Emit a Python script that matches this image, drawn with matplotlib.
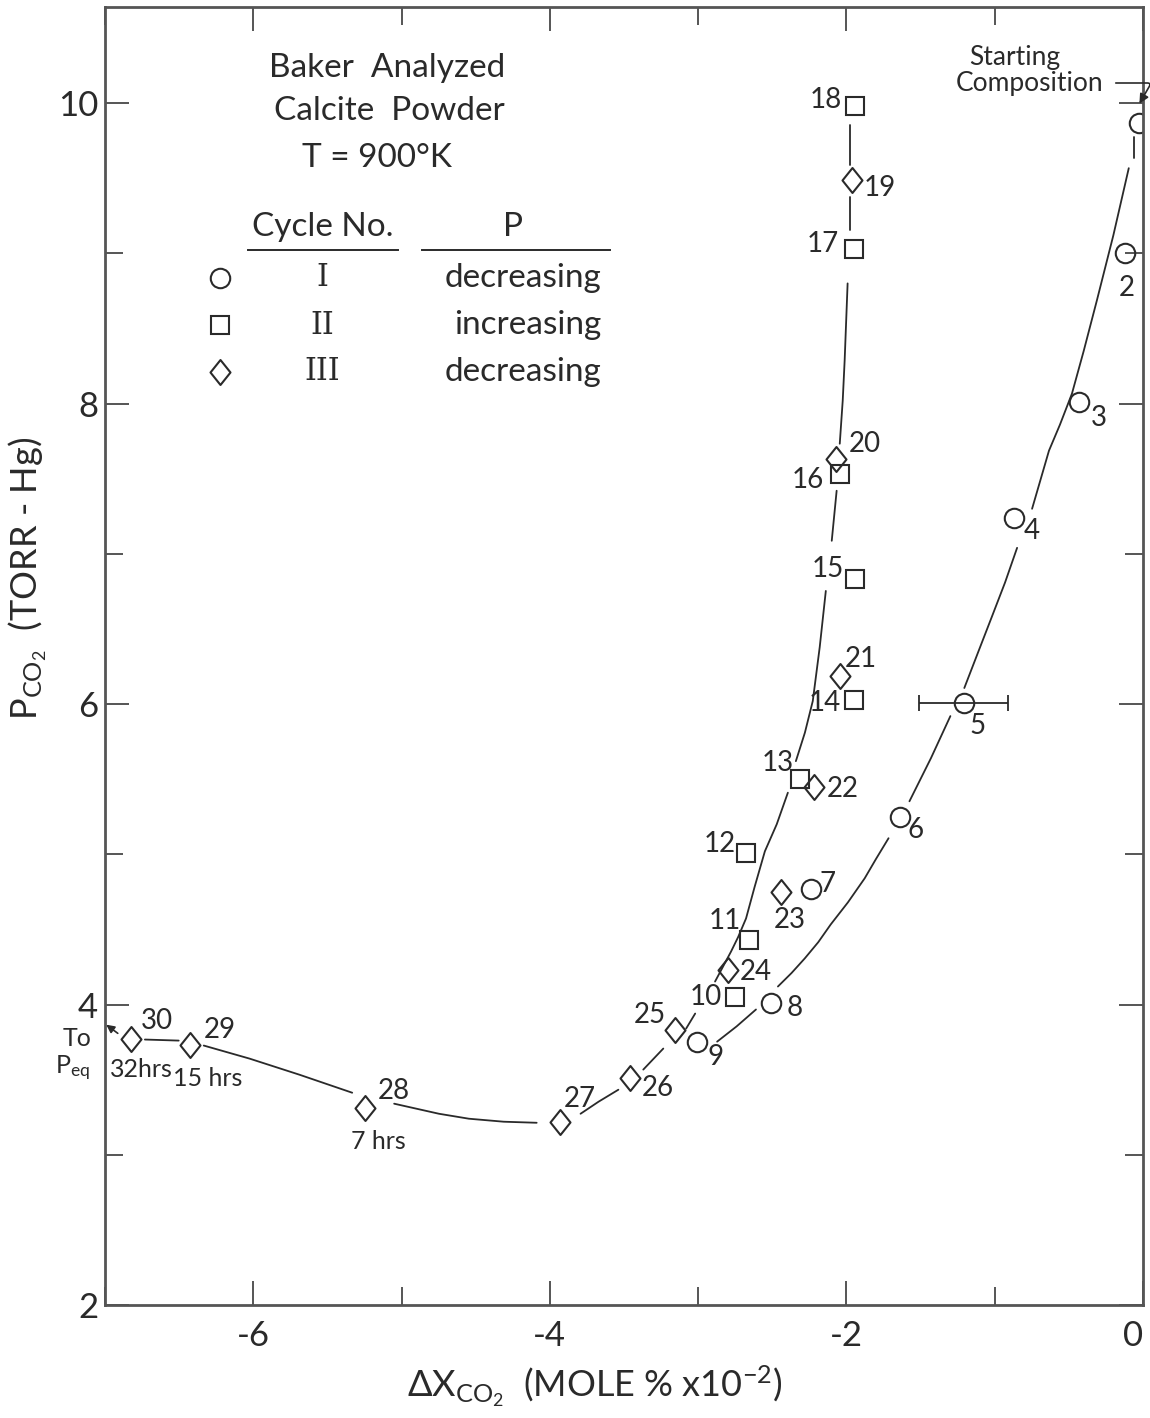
import matplotlib
matplotlib.use("Agg")
import matplotlib.pyplot as plt
from matplotlib.path import Path
from matplotlib.ticker import MultipleLocator

plt.rcParams["font.family"] = ["Lato", "DejaVu Sans"]
plt.rcParams["mathtext.fontset"] = "custom"
plt.rcParams["mathtext.rm"] = "Lato"
plt.rcParams["mathtext.it"] = "Lato"
plt.rcParams["mathtext.default"] = "regular"
plt.rcParams["axes.unicode_minus"] = False

# ---------------- data ----------------
# Cycle I (circles, P decreasing)
c1_labels = ["", "2", "3", "4", "5", "6", "7", "8", "9"]
c1_x = [-0.03, -0.12, -0.43, -0.87, -1.21, -1.64, -2.24, -2.51, -3.01]
c1_y = [9.87, 9.00, 8.01, 7.24, 6.01, 5.25, 4.77, 4.01, 3.75]
c1_xerr_point = 4          # index of point 5 with error bar
c1_xerr = 0.30

# Cycle II (squares, P increasing)
c2_labels = ["10", "11", "12", "13", "14", "15", "16", "17", "18"]
c2_x = [-2.75, -2.66, -2.68, -2.31, -1.95, -1.945, -2.04, -1.95, -1.94]
c2_y = [4.05, 4.43, 5.01, 5.50, 6.03, 6.83, 7.53, 9.03, 9.98]

# Cycle III (diamonds, P decreasing)
c3_labels = ["19", "20", "21", "22", "23", "24", "25", "26", "27", "28", "29", "30"]
c3_x = [-1.96, -2.07, -2.045, -2.22, -2.44, -2.80, -3.155, -3.46, -3.93, -5.245, -6.43, -6.825]
c3_y = [9.49, 7.63, 6.19, 5.45, 4.75, 4.23, 3.83, 3.51, 3.22, 3.31, 3.73, 3.77]
c3_times = {"28": "7 hrs", "29": "15 hrs", "30": "32hrs"}

# Hand-drawn curve through cycle I (segments, broken at markers/labels)
curve1_segments = [
    ([-0.062, -0.062], [9.773, 9.633]),
    ([-0.096, -0.20, -0.311, -0.40, -0.479, -0.560, -0.634, -0.748],
     [9.567, 9.12, 8.687, 8.35, 8.067, 7.86, 7.687, 7.30]),
    ([-0.849, -0.93, -1.017, -1.11, -1.205], [7.04, 6.81, 6.587, 6.35, 6.107]),
    ([-1.299, -1.43, -1.575], [5.92, 5.64, 5.353]),
    ([-1.716, -1.80, -1.877, -1.99, -2.106, -2.19, -2.281, -2.37, -2.462],
     [5.107, 4.97, 4.84, 4.68, 4.533, 4.415, 4.307, 4.21, 4.12]),
    ([-2.610, -2.74, -2.872], [3.967, 3.855, 3.753]),
]

# Hand-drawn curve through cycles II / III
curve2_segments = [
    ([-1.978, -1.978], [9.853, 9.587]),
    ([-1.978, -1.978], [9.373, 9.153]),
    ([-1.992, -2.012, -2.025, -2.045], [8.80, 8.287, 8.02, 7.733]),
    ([-2.066, -2.099], [7.42, 7.087]),
    ([-2.139, -2.18, -2.227, -2.28, -2.341], [6.753, 6.38, 6.02, 5.81, 5.62]),
    ([-2.395, -2.47, -2.55, -2.62, -2.677, -2.73, -2.778, -2.886],
     [5.41, 5.20, 5.02, 4.78, 4.573, 4.45, 4.353, 4.153]),
    ([-3.02, -3.081], [3.94, 3.84]),
    ([-3.235, -3.370], [3.707, 3.567]),
    ([-3.538, -3.672, -3.793], [3.433, 3.353, 3.273]),
    ([-4.089, -4.311, -4.546, -4.748, -5.05], [3.213, 3.22, 3.24, 3.273, 3.34]),
    ([-5.333, -5.689, -6.025, -6.334], [3.413, 3.533, 3.64, 3.727]),
    ([-6.503, -6.731], [3.76, 3.767]),
]

x_ticks_major = [-6, -4, -2, 0]
y_ticks_major = [2, 4, 6, 8, 10]

# ---------------- style / layout ----------------
INK = "#2a2a2a"
SPINE = "#555555"
W, H = 1150, 1418
AX_L, AX_R, AX_T, AX_B = 105, 1143, 7, 1305


def afx(px):
    return (px - AX_L) / (AX_R - AX_L)


def afy(py):
    return (AX_B - py) / (AX_B - AX_T)


fig = plt.figure(figsize=(W / 100, H / 100), dpi=100)
ax = fig.add_axes([AX_L / W, 1 - AX_B / H, (AX_R - AX_L) / W, (AX_B - AX_T) / H])
ax.set_xlim(-7.0, 0.0)
ax.set_ylim(2.0, 10.64)

for s in ax.spines.values():
    s.set_color(SPINE)
    s.set_linewidth(2.0)

ax.xaxis.set_major_locator(MultipleLocator(2))
ax.xaxis.set_minor_locator(MultipleLocator(1))
ax.yaxis.set_major_locator(MultipleLocator(2))
ax.yaxis.set_minor_locator(MultipleLocator(1))
ax.set_xticks(x_ticks_major)
ax.set_yticks(y_ticks_major)
ax.set_xticklabels([str(v) for v in x_ticks_major])
ax.set_yticklabels([str(v) for v in y_ticks_major])
ax.tick_params(which="both", direction="in", top=True, right=True,
               color=SPINE, width=1.4, labelcolor=INK)
ax.tick_params(which="major", length=17, labelsize=25)
ax.tick_params(which="minor", length=13)
ax.tick_params(axis="x", which="major", pad=11)
ax.tick_params(axis="y", which="major", pad=5)
ax.get_xticklabels()[-1].set_horizontalalignment("right")

# curves
for xs, ys in curve1_segments:
    ax.plot(xs, ys, color=INK, lw=1.3, solid_capstyle="round", solid_joinstyle="round")
for xs, ys in curve2_segments:
    ax.plot(xs, ys, color=INK, lw=1.3, solid_capstyle="round", solid_joinstyle="round")

diamond = Path([(0, 1), (0.8, 0), (0, -1), (-0.8, 0), (0, 1)],
               [Path.MOVETO, Path.LINETO, Path.LINETO, Path.LINETO, Path.CLOSEPOLY])

mk = dict(linestyle="none", markerfacecolor="none", markeredgecolor=INK, markeredgewidth=1.5)
ax.plot(c1_x, c1_y, marker="o", markersize=14, **mk)
ax.plot(c2_x, c2_y, marker="s", markersize=13, **mk)
ax.plot(c3_x, c3_y, marker=diamond, markersize=18, **mk)

ax.errorbar([c1_x[c1_xerr_point]], [c1_y[c1_xerr_point]], xerr=c1_xerr, fmt="none",
            ecolor=INK, elinewidth=1.3, capsize=5.5, capthick=1.3)

# point labels: offsets in pixels (dx, dy downward)
off1 = [None, (2, 35), (20, 16), (18, 13), (14, 23), (16, 13), (17, -5), (24, 5), (19, 15)]
off2 = [(-29, 0), (-24, -19), (-26, -9), (-23, -16), (-29, 3), (-27, -10), (-33, 6), (-31, -5), (-30, -6)]
off3 = [(27, 8), (29, -15), (21, -17), (29, 2), (9, 28), (28, 2), (-25, -15), (28, 10),
        (20, -23), (29, -17), (30, -15), (26, -18)]
time_off = {"28": (13, 33), "29": (18, 33), "30": (10, 30)}

lab_kw = dict(textcoords="offset pixels", ha="center", va="center", fontsize=20, color=INK)
for lab, x, y, o in zip(c1_labels, c1_x, c1_y, off1):
    if lab and o:
        ax.annotate(lab, (x, y), xytext=(o[0], -o[1]), **lab_kw)
for lab, x, y, o in zip(c2_labels, c2_x, c2_y, off2):
    ax.annotate(lab, (x, y), xytext=(o[0], -o[1]), **lab_kw)
for lab, x, y, o in zip(c3_labels, c3_x, c3_y, off3):
    ax.annotate(lab, (x, y), xytext=(o[0], -o[1]), **lab_kw)
    if lab in c3_times:
        t = time_off[lab]
        ax.annotate(c3_times[lab], (x, y), xytext=(t[0], -t[1]),
                    textcoords="offset pixels", ha="center", va="center",
                    fontsize=18, color=INK)

# title block
tk = dict(transform=ax.transAxes, ha="center", va="center", color=INK, fontsize=24)
ax.text(afx(387), afy(68), "Baker  Analyzed", **tk)
ax.text(afx(389), afy(111), "Calcite  Powder", **tk)
ax.text(afx(377), afy(158), "T = 900°K", **tk)

# legend table
ax.text(afx(323), afy(227), "Cycle No.", **tk)
ax.text(afx(513), afy(227), "P", **tk)
ax.plot([afx(248), afx(398)], [afy(250), afy(250)], transform=ax.transAxes, color=INK, lw=1.4)
ax.plot([afx(422), afx(610)], [afy(250), afy(250)], transform=ax.transAxes, color=INK, lw=1.4)
rows = [("o", 14, "I", "decreasing", 278, 523),
        ("s", 13, "II", "increasing", 325, 528),
        (diamond, 18, "III", "decreasing", 372, 523)]
for m, ms, rn, txt, py, tx in rows:
    ax.plot([afx(220)], [afy(py)], transform=ax.transAxes, marker=m, markersize=ms, **mk)
    ax.text(afx(322), afy(py), rn, transform=ax.transAxes, ha="center", va="center",
            color=INK, fontsize=22, family="DejaVu Serif")
    ax.text(afx(tx), afy(py), txt, **tk)

# starting composition
ax.text(afx(1015), afy(58), "Starting", transform=ax.transAxes, ha="center", va="center",
        fontsize=19, color=INK)
ax.text(afx(1030), afy(83), "Composition", transform=ax.transAxes, ha="center", va="center",
        fontsize=19, color=INK)
ax.annotate("", xy=(afx(1138), afy(106)), xytext=(afx(1113), afy(83)),
            xycoords="axes fraction", textcoords="axes fraction",
            arrowprops=dict(arrowstyle="-|>", color=INK, lw=1.2, mutation_scale=14,
                            connectionstyle="angle,angleA=0,angleB=60,rad=4"),
            annotation_clip=False)

# To P_eq
ax.annotate("", xy=(afx(104), afy(1023)), xytext=(afx(120), afy(1035)),
            xycoords="axes fraction", textcoords="axes fraction",
            arrowprops=dict(arrowstyle="-|>", color=INK, lw=1.2, mutation_scale=12),
            annotation_clip=False)
ax.text(afx(77), afy(1039), "To", transform=ax.transAxes, ha="center", va="center",
        fontsize=18, color=INK, clip_on=False)
ax.text(afx(73), afy(1068), "P$_{eq}$", transform=ax.transAxes, ha="center", va="center",
        fontsize=18, color=INK, clip_on=False)

# axis labels
ax.text(afx(28), afy(578), "P$_{CO_2}$  (TORR - Hg)", transform=ax.transAxes,
        rotation=90, ha="center", va="center", fontsize=26, color=INK)
ax.text(afx(595), afy(1386), r"$\Delta$X$_{CO_2}$  (MOLE % x10$^{-2}$)",
        transform=ax.transAxes, ha="center", va="center", fontsize=26, color=INK)

fig.savefig("out.png", dpi=100, facecolor="white")
